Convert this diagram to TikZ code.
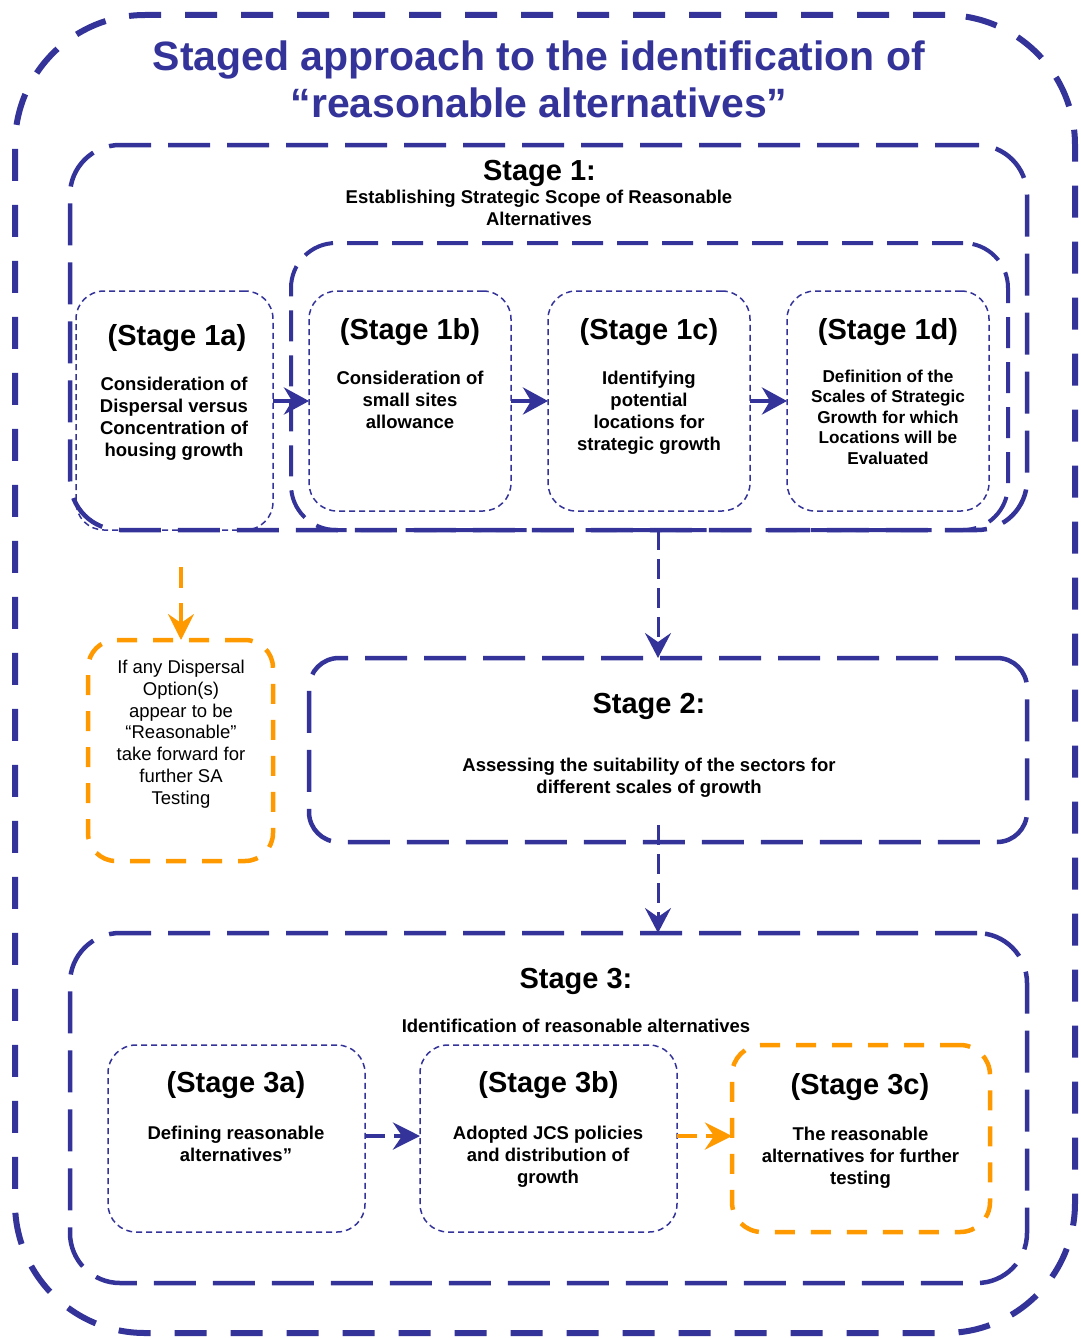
\documentclass[tikz,border=0pt]{standalone}
\usepackage{fontspec}
\setmainfont{Liberation Sans}
\usetikzlibrary{arrows.meta,calc}
\definecolor{sblue}{HTML}{333399}
\definecolor{sorange}{HTML}{FF9900}
\tikzset{
  box/.style={rectangle, inner sep=0pt, outer sep=0pt, draw=sblue},
  bigdash/.style={box, line width=4.5pt, dash pattern=on 42pt off 17pt},
  thinbox/.style={box, line width=1.5pt, dash pattern=on 6pt off 4pt, rounded corners=28pt},
  orangebox/.style={box, draw=sorange, line width=4.5pt, dash pattern=on 20pt off 16pt, rounded corners=28pt},
  titlef/.style={font=\fontsize{41}{47}\selectfont\bfseries, text=sblue, align=center, anchor=north, inner sep=0pt},
  headf/.style={font=\fontsize{29}{34}\selectfont\bfseries, anchor=base, inner sep=0pt},
  bodyf/.style={font=\fontsize{18.5}{22}\selectfont\bfseries, align=center, anchor=north, inner sep=0pt},
  smallf/.style={font=\fontsize{17.2}{20.5}\selectfont\bfseries, align=center, anchor=north, inner sep=0pt},
  plainf/.style={font=\fontsize{18.5}{21.7}\selectfont, align=center, anchor=north, inner sep=0pt},
  solidarr/.style={draw=sblue, line width=4.5pt, -{Stealth[length=25pt,width=27pt,inset=8pt]}},
  dasharr/.style={draw=sblue, line width=4.5pt, dash pattern=on 20pt off 9pt, -{Stealth[length=27pt,width=27pt,inset=9pt]}},
  odasharr/.style={draw=sorange, line width=4.5pt, dash pattern=on 20pt off 9pt, -{Stealth[length=27pt,width=27pt,inset=9pt]}},
  vdash/.style={draw=sblue, line width=3pt, dash pattern=on 20pt off 9pt, -{Stealth[length=25pt,width=26pt,inset=9pt]}},
  ovdash/.style={draw=sorange, line width=3.5pt, dash pattern=on 21pt off 15pt, -{Stealth[length=26pt,width=26pt,inset=9pt]}}
}
\begin{document}
\begin{tikzpicture}[x=1pt,y=-1pt]
\useasboundingbox (0,0) rectangle (1080,1338);
% outer frame
\node[box, line width=6pt, dash pattern=on 32pt off 24pt, rounded corners=130pt,
      minimum width=1060pt, minimum height=1318pt] (outer) at (545,674) {};
\node[titlef] (title) at (539,37.1) {\strut Staged approach to the identification of\\“reasonable alternatives”};

% Stage 1
\node[bigdash, rounded corners=50pt, minimum width=957pt, minimum height=385pt] (s1) at (548.5,337.5) {};
\node[headf] (s1h) at (539.5,180) {Stage 1:};
\node[bodyf] (s1t) at (539,188.2) {\strut Establishing Strategic Scope of Reasonable\\Alternatives};
\node[box, line width=4pt, dash pattern=on 31pt off 14pt, rounded corners=45pt,
      minimum width=717pt, minimum height=287pt] (s1in) at (649.5,386.5) {};

\node[thinbox, minimum width=197pt, minimum height=239pt] (b1a) at (174.5,410.5) {};
\node[thinbox, minimum width=202pt, minimum height=220pt] (b1b) at (410,401) {};
\node[thinbox, minimum width=202pt, minimum height=220pt] (b1c) at (649,401) {};
\node[thinbox, minimum width=202pt, minimum height=220pt] (b1d) at (888,401) {};

\node[headf] (h1a) at (177,345) {(Stage 1a)};
\node[bodyf] (t1a) at (174,375.2) {\strut Consideration of\\Dispersal versus\\Concentration of\\housing growth};
\node[headf] (h1b) at (410,339) {(Stage 1b)};
\node[bodyf] (t1b) at (410,369.2) {\strut Consideration of\\small sites\\allowance};
\node[headf] (h1c) at (649,339) {(Stage 1c)};
\node[bodyf] (t1c) at (649,369.2) {\strut Identifying\\potential\\locations for\\strategic growth};
\node[headf] (h1d) at (888,339) {(Stage 1d)};
\node[smallf] (t1d) at (888,367.9) {\strut Definition of the\\Scales of Strategic\\Growth for which\\Locations will be\\Evaluated};

\draw[solidarr] (b1b.west -| b1a.east) -- (b1b.west);
\draw[solidarr] (b1b.east) -- (b1c.west);
\draw[solidarr] (b1c.east) -- (b1d.west);

% orange side box
\node[orangebox, minimum width=185pt, minimum height=221pt] (ob) at (180.5,750.5) {};
\node[plainf] (obt) at (181,658.4) {\strut If any Dispersal\\Option(s)\\appear to be\\“Reasonable”\\take forward for\\further SA\\Testing};
\coordinate (oa) at (181,567);
\draw[ovdash] (oa) -- (ob.north -| oa);

% Stage 2
\node[bigdash, rounded corners=30pt, minimum width=718pt, minimum height=184pt] (s2) at (668,750) {};
\node[headf] (s2h) at (649,713) {Stage 2:};
\node[bodyf] (s2t) at (649,756.2) {\strut Assessing the suitability of the sectors for\\different scales of growth};

\coordinate (ax) at (658,0);
\draw[vdash] (s1in.south -| ax) -- (s2.north -| ax);

% Stage 3
\node[bigdash, rounded corners=50pt, minimum width=957pt, minimum height=350pt] (s3) at (548.5,1108) {};
\draw[vdash] ($(s2.south -| ax)+(0,-17)$) -- (s3.north -| ax);
\node[headf] (s3h) at (576,988) {Stage 3:};
\node[bodyf, anchor=base] (s3t) at (576,1032.6) {Identification of reasonable alternatives};

\node[thinbox, minimum width=257pt, minimum height=187pt] (b3a) at (236.5,1138.5) {};
\node[thinbox, minimum width=257pt, minimum height=187pt] (b3b) at (548.5,1138.5) {};
\node[orangebox, rounded corners=30pt, minimum width=258pt, minimum height=187pt] (b3c) at (861,1138.5) {};

\node[headf] (h3a) at (236,1092) {(Stage 3a)};
\node[bodyf] (t3a) at (236,1124.2) {\strut Defining reasonable\\alternatives”};
\node[headf] (h3b) at (548.5,1092) {(Stage 3b)};
\node[bodyf] (t3b) at (548,1124.2) {\strut Adopted JCS policies\\and distribution of\\growth};
\node[headf] (h3c) at (860,1094) {(Stage 3c)};
\node[bodyf] (t3c) at (860.5,1125.2) {\strut The reasonable\\alternatives for further\\testing};

\coordinate (ay) at (0,1136);
\draw[dasharr] (b3a.east |- ay) -- (b3b.west |- ay);
\draw[odasharr] (b3b.east |- ay) -- (b3c.west |- ay);
\end{tikzpicture}
\end{document}
